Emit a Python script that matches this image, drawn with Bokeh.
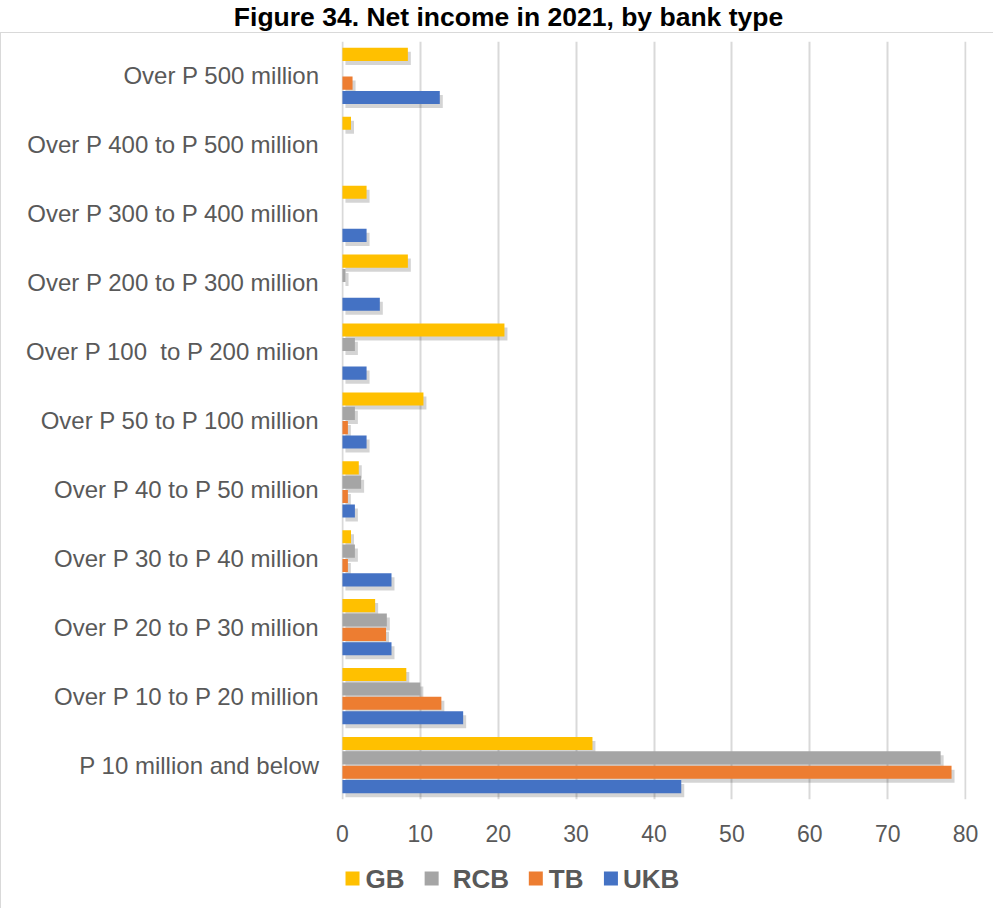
from bokeh.plotting import figure
from bokeh.models import (ColumnDataSource, FactorRange, Range1d, FixedTicker, Label)
from bokeh.layouts import column
from bokeh.transform import dodge
from bokeh.core.properties import value
from bokeh.embed import file_html
from bokeh.resources import INLINE

# ---------------- data ----------------
categories = [
    "P 10 million and below",
    "Over P 10 to P 20 million",
    "Over P 20 to P 30 million",
    "Over P 30 to P 40 million",
    "Over P 40 to P 50 million",
    "Over P 50 to P 100 million",
    "Over P 100\u00a0 to P 200 milion",
    "Over P 200 to P 300 million",
    "Over P 300 to P 400 million",
    "Over P 400 to P 500 million",
    "Over P 500 million",
]
gb = [32.1, 8.2, 4.2, 1.1, 2.1, 10.4, 20.8, 8.4, 3.1, 1.1, 8.4]
rcb = [76.8, 10.0, 5.7, 1.6, 2.4, 1.6, 1.6, 0.4, 0.0, 0.0, 0.0]
tb = [78.2, 12.7, 5.6, 0.7, 0.7, 0.7, 0.0, 0.0, 0.0, 0.0, 1.3]
ukb = [43.5, 15.5, 6.3, 6.3, 1.6, 3.1, 3.1, 4.8, 3.1, 0.0, 12.5]
series_names = ["GB", "RCB", "TB", "UKB"]
x_ticks = [0, 10, 20, 30, 40, 50, 60, 70, 80]
title_text = "Figure 34. Net income in 2021, by bank type"

# ---------------- style ----------------
FONT = "Liberation Sans"
TXT = "#595959"
GRID = "#d9d9d9"
colors = {"GB": "#FFC000", "RCB": "#A5A5A5", "TB": "#ED7D31", "UKB": "#4472C4"}
offsets = {"GB": 0.313, "RCB": 0.104, "TB": -0.104, "UKB": -0.313}
BAR_H = 0.19
W = 993
# legend layout (page-pixel positions of the swatches and label starts)
legend_swatch_x = [352, 431, 535, 610]
legend_label_x = [365, 452, 548, 622]


def bare(fig):
    fig.outline_line_color = None
    fig.background_fill_color = "white"
    fig.border_fill_color = "white"
    fig.grid.grid_line_color = None
    return fig


# ---------------- title strip ----------------
tfig = bare(figure(width=W, height=32, x_range=Range1d(0, W), y_range=Range1d(0, 32),
                   x_axis_type=None, y_axis_type=None, min_border=0,
                   output_backend="svg", toolbar_location=None))
tfig.add_layout(Label(x=508, y=16, text=title_text, text_align="center",
                      text_baseline="middle", text_font=FONT, text_font_size="26.5px",
                      text_font_style="bold", text_color="#000000"))

# ---------------- main chart ----------------
src = ColumnDataSource(dict(cat=categories, GB=gb, RCB=rcb, TB=tb, UKB=ukb))

p = bare(figure(frame_width=625, frame_height=758,
                y_range=FactorRange(*categories),
                x_range=Range1d(-0.12, 80.12),
                output_backend="svg", toolbar_location=None,
                min_border_left=340, min_border_right=27,
                min_border_top=8, min_border_bottom=50))

p.xgrid.ticker = FixedTicker(ticks=x_ticks)
p.xgrid.grid_line_color = GRID
p.xgrid.grid_line_width = 2

p.xaxis.ticker = FixedTicker(ticks=x_ticks)
p.xaxis.axis_line_color = None
p.xaxis.major_tick_line_color = None
p.xaxis.minor_tick_line_color = None
p.xaxis.major_label_standoff = 19
p.xaxis.major_label_text_font = FONT
p.xaxis.major_label_text_font_size = "23px"
p.xaxis.major_label_text_color = TXT

p.yaxis.axis_line_color = None
p.yaxis.major_tick_line_color = None
p.yaxis.minor_tick_line_color = None
p.yaxis.major_label_standoff = 16
p.yaxis.major_label_text_font = FONT
p.yaxis.major_label_text_font_size = "24px"
p.yaxis.major_label_text_color = TXT

# soft shadows
for s in series_names:
    p.hbar(y=dodge("cat", offsets[s] - 0.058, range=p.y_range),
           left=0.385, right=dodge(s, 0.385), height=BAR_H,
           fill_color="#000000", fill_alpha=0.17, line_color=None, source=src)

for s in series_names:
    p.hbar(y=dodge("cat", offsets[s], range=p.y_range),
           left=0, right=s, height=BAR_H,
           fill_color=colors[s], line_color=None, source=src)

# ---------------- legend strip ----------------
# the column aligns this strip's frame with the chart's frame (page x 341..966)
lfig = bare(figure(width=W, height=60, x_range=Range1d(341, 966), y_range=Range1d(0, 60),
                   x_axis_type=None, y_axis_type=None, min_border=0,
                   output_backend="svg", toolbar_location=None))
lsrc = ColumnDataSource(dict(name=series_names, color=[colors[s] for s in series_names],
                             sx=legend_swatch_x, lx=legend_label_x,
                             y=[31] * len(series_names)))
lfig.rect(x="sx", y="y", width=14, height=14, width_units="screen", height_units="screen",
          fill_color="color", line_color=None, source=lsrc)
lfig.text(x="lx", y="y", text="name", text_font=value(FONT), text_font_size="26px",
          text_font_style="bold", text_color=TXT, text_baseline="middle",
          text_align="left", source=lsrc)

body = column(p, lfig, spacing=0,
              styles={"border-left": "1px solid #d9d9d9", "border-top": "1px solid #d9d9d9"})
layout = column(tfig, body, spacing=0)

open("out.html", "w").write(file_html(layout, INLINE))
